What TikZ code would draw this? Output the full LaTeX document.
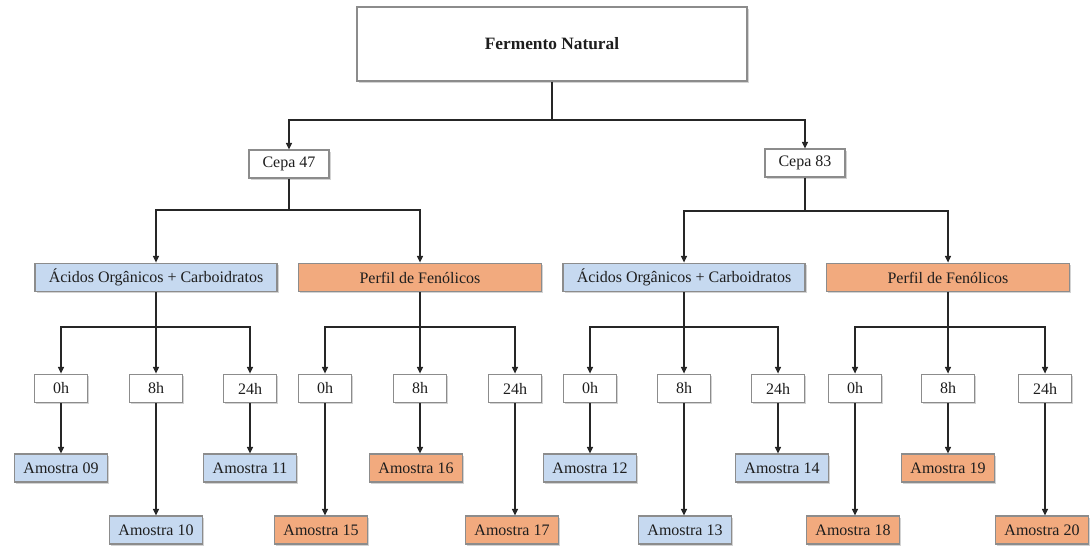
\documentclass[tikz,border=0pt]{standalone}
\usepackage{fontspec}
\setmainfont{Liberation Serif}
\usetikzlibrary{arrows.meta,shadows}
\definecolor{bluefill}{RGB}{198,217,240}
\definecolor{orangefill}{RGB}{242,170,126}
\definecolor{boxline}{RGB}{140,140,140}
\definecolor{txt}{RGB}{30,30,30}
\tikzset{
  base/.style={draw=boxline, line width=0.8pt, text=txt, font=\fontsize{12}{14}\selectfont,
    inner sep=0pt, drop shadow={shadow xshift=1.2pt, shadow yshift=-1.2pt, opacity=0.35, fill=gray}},
  topbox/.style={base, fill=white, minimum width=292.5pt, minimum height=55.5pt, font=\fontsize{13}{15}\selectfont\bfseries},
  cepabox/.style={base, fill=white, minimum width=60pt, minimum height=21pt},
  catblue/.style={base, fill=bluefill, minimum width=181.5pt, minimum height=21.5pt},
  catorange/.style={base, fill=orangefill, minimum width=182pt, minimum height=21.5pt},
  hourbox/.style={base, fill=white, minimum width=39.5pt, minimum height=21.5pt},
  ambl/.style={base, fill=bluefill, minimum width=70pt, minimum height=21pt},
  amor/.style={base, fill=orangefill, minimum width=70pt, minimum height=21pt},
  conn/.style={line width=1.1pt, draw=black!85},
  arr/.style={conn, -{Triangle[length=5pt,width=4.5pt]}}
}
\begin{document}
\begin{tikzpicture}[x=0.75pt,y=-0.75pt]
\useasboundingbox (0,0) rectangle (1090,546);
% top
\node[topbox] (top) at (552,44) {Fermento Natural};
\node[cepabox] (c47) at (289,164) {Cepa 47};
\node[cepabox] (c83) at (805,163) {Cepa 83};
% categories
\node[catblue] (a1) at (156,277.5) {Ácidos Orgânicos + Carboidratos};
\node[catorange] (p1) at (420,277.5) {Perfil de Fenólicos};
\node[catblue] (a2) at (684,277.5) {Ácidos Orgânicos + Carboidratos};
\node[catorange] (p2) at (948,277.5) {Perfil de Fenólicos};
% hours
\foreach \n/\x/\t in {h1/61/0h,h2/156/8h,h3/250/24h,h4/325/0h,h5/420/8h,h6/515/24h,h7/590/0h,h8/684/8h,h9/778/24h,h10/855/0h,h11/948/8h,h12/1045/24h}
  \node[hourbox] (\n) at (\x,388.5) {\t};
% samples
\node[ambl] (s09) at (61,468) {Amostra 09};
\node[ambl] (s10) at (156,530) {Amostra 10};
\node[ambl] (s11) at (250,468) {Amostra 11};
\node[amor] (s15) at (321,530) {Amostra 15};
\node[amor] (s16) at (416,468) {Amostra 16};
\node[amor] (s17) at (512,530) {Amostra 17};
\node[ambl] (s12) at (590,468) {Amostra 12};
\node[ambl] (s13) at (685,530) {Amostra 13};
\node[ambl] (s14) at (782,468) {Amostra 14};
\node[amor] (s18) at (853,530) {Amostra 18};
\node[amor] (s19) at (948,468) {Amostra 19};
\node[amor] (s20) at (1042,530) {Amostra 20};
% junction coordinates
\coordinate (j0) at (552,120);
\coordinate (j1) at (289,210);
\coordinate (j2) at (805,211);
\coordinate (ja1) at (156,327);
\coordinate (jp1) at (420,327);
\coordinate (ja2) at (684,327);
\coordinate (jp2) at (948,327);
% connectors level 1
\draw[conn] (top.south -| j0) -- (j0);
\draw[arr] (j0) -| (c47.north);
\draw[arr] (j0) -| (c83.north);
% level 2
\draw[conn] (c47.south) -- (j1);
\draw[arr] (j1) -| (a1.north);
\draw[arr] (j1) -| (p1.north);
\draw[conn] (c83.south) -- (j2);
\draw[arr] (j2) -| (a2.north);
\draw[arr] (j2) -| (p2.north);
% level 3
\draw[conn] (a1.south) -- (ja1);
\draw[arr] (ja1) -| (h1.north);
\draw[arr] (ja1) -- (h2.north);
\draw[arr] (ja1) -| (h3.north);
\draw[conn] (p1.south) -- (jp1);
\draw[arr] (jp1) -| (h4.north);
\draw[arr] (jp1) -- (h5.north);
\draw[arr] (jp1) -| (h6.north);
\draw[conn] (a2.south) -- (ja2);
\draw[arr] (ja2) -| (h7.north);
\draw[arr] (ja2) -- (h8.north);
\draw[arr] (ja2) -| (h9.north);
\draw[conn] (p2.south) -- (jp2);
\draw[arr] (jp2) -| (h10.north);
\draw[arr] (jp2) -- (h11.north);
\draw[arr] (jp2) -| (h12.north);
% level 4
\draw[arr] (h1.south) -- (h1.south |- s09.north);
\draw[arr] (h2.south) -- (h2.south |- s10.north);
\draw[arr] (h3.south) -- (h3.south |- s11.north);
\draw[arr] (h4.south) -- (h4.south |- s15.north);
\draw[arr] (h5.south) -- (h5.south |- s16.north);
\draw[arr] (h6.south) -- (h6.south |- s17.north);
\draw[arr] (h7.south) -- (h7.south |- s12.north);
\draw[arr] (h8.south) -- (h8.south |- s13.north);
\draw[arr] (h9.south) -- (h9.south |- s14.north);
\draw[arr] (h10.south) -- (h10.south |- s18.north);
\draw[arr] (h11.south) -- (h11.south |- s19.north);
\draw[arr] (h12.south) -- (h12.south |- s20.north);
\end{tikzpicture}
\end{document}
